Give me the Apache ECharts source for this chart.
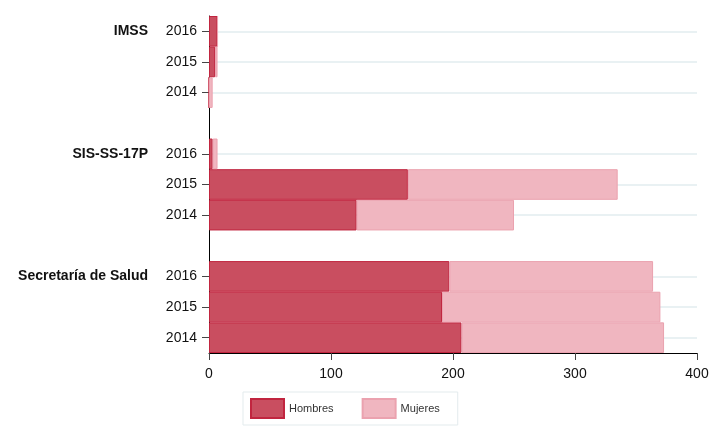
<!DOCTYPE html>
<html>
<head>
<meta charset="utf-8">
<script src="https://cdn.jsdelivr.net/npm/echarts@6/dist/echarts.min.js"></script>
<style>html,body{margin:0;padding:0;background:#fff;}#c{width:722px;height:433px;}</style>
</head>
<body>
<div id="c"></div>
<script>
// Rows top to bottom ('' = spacer between groups)
const years = ['2016','2015','2014','','2016','2015','2014','','2016','2015','2014'];
const groups = ['IMSS','','','','SIS-SS-17P','','','','Secretaría de Salud','',''];
const hombres = [7, 5, 0, null, 3, 163, 121, null, 197, 191, 207];
const mujeres = [0, 2, 3, null, 4, 172, 129, null, 167, 179, 166];
const xTicks = [0, 100, 200, 300, 400];

const FONT = '"Liberation Sans", Arial, Helvetica, sans-serif';
const hasLabel = (i) => years[i] !== '';
const gridRows = years.map((y, i) => i).filter(hasLabel).map((i) => ({yAxis: i}));

const chart = echarts.init(document.getElementById('c'), null, {renderer: 'canvas'});
chart.setOption({
  animation: false,
  textStyle: {fontFamily: FONT},
  grid: {left: 209, right: 25, top: 16, bottom: 80, containLabel: false},
  legend: {
    left: 243, top: 392,
    padding: [6, 18, 6, 7],
    borderColor: '#e3ebed', borderWidth: 1,
    itemWidth: 33, itemHeight: 19, itemGap: 28,
    icon: 'rect',
    textStyle: {fontSize: 11, color: '#333', fontFamily: FONT},
    data: ['Hombres', 'Mujeres']
  },
  xAxis: {
    type: 'value', min: xTicks[0], max: xTicks[xTicks.length - 1], interval: 100,
    axisLine: {show: true, lineStyle: {color: '#000', width: 1}},
    axisTick: {show: true, length: 7, lineStyle: {color: '#444'}},
    axisLabel: {fontSize: 14, color: '#111', margin: 14, fontFamily: FONT},
    splitLine: {show: false}
  },
  yAxis: [{
    type: 'category', inverse: true, data: years,
    axisLine: {show: true, onZero: false, lineStyle: {color: '#000', width: 1}},
    axisTick: {show: true, length: 7, alignWithLabel: true, interval: (i) => hasLabel(i), lineStyle: {color: '#444'}},
    axisLabel: {fontSize: 14, color: '#111', margin: 12, interval: 0, fontFamily: FONT},
    splitLine: {show: false}
  }, {
    type: 'category', inverse: true, data: groups, position: 'left', offset: 49,
    axisLine: {show: false}, axisTick: {show: false},
    axisLabel: {fontSize: 14, fontWeight: 'bold', color: '#111', margin: 12, interval: 0, fontFamily: FONT},
    splitLine: {show: false}
  }],
  series: [{
    name: 'gridlines', type: 'line', data: [], z: 0, silent: true,
    markLine: {
      z: 0, silent: true, symbol: 'none', animation: false,
      label: {show: false},
      lineStyle: {color: '#e9f1f3', width: 2, type: 'solid'},
      data: gridRows
    }
  }, {
    name: 'Hombres', type: 'bar', stack: 'total', yAxisIndex: 0, z: 3,
    barWidth: '100%', data: hombres,
    itemStyle: {color: '#c94e60', borderColor: '#c1253f', borderWidth: 1}
  }, {
    name: 'Mujeres', type: 'bar', stack: 'total', yAxisIndex: 0, z: 3,
    barWidth: '100%', data: mujeres,
    itemStyle: {color: '#f0b6c0', borderColor: '#eba2af', borderWidth: 1}
  }]
});
</script>
</body>
</html>
